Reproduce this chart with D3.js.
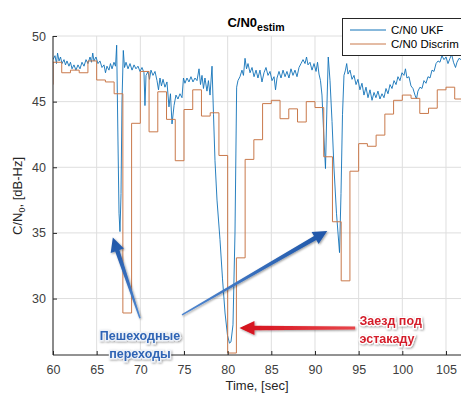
<!DOCTYPE html>
<html><head><meta charset="utf-8">
<script src="https://cdn.jsdelivr.net/npm/d3@7"></script>
<style>
html,body{margin:0;padding:0;background:#fff;}
svg{display:block;font-family:"Liberation Sans",Arial,Helvetica,sans-serif;}
</style></head>
<body>
<svg id="chart" width="461" height="396"></svg>
<script>
// ---- data ----
const xTicks = [60,65,70,75,80,85,90,95,100,105];
const yTicks = [30,35,40,45,50];
const seriesNames = ["C/N0 UKF","C/N0 Discrim"];

// Discriminator estimate: one value per second (step after)
const discrimTime = [59,60,61,62,63,64,65,66,67,68,69,70,71,72,73,74,75,76,77,78,79,80,81,82,83,84,85,86,87,88,89,90,91,92,93,94,95,96,97,98,99,100,101,102,103,104,105,106,107];
const discrimValue = [46.3,48.0,47.2,47.4,47.2,48.1,46.65,46.5,45.6,28.9,43.35,47.3,42.7,45.75,43.65,40.5,44.4,45.9,43.9,44.15,40.9,25.85,33.1,40.6,42.1,44.85,45.1,43.7,44.45,43.45,45.0,44.55,40.8,35.85,31.35,39.7,41.8,41.6,42.45,44.05,45.1,45.5,45.25,44.1,44.5,45.9,46.1,45.2,45.2];

// UKF estimate
const ukfTime = [60.0,60.23,60.4,60.52,60.69,60.86,61.03,61.26,61.43,61.6,61.83,62.0,62.18,62.4,62.63,62.86,63.09,63.32,63.55,63.78,64.0,64.24,64.41,64.55,64.69,64.92,65.15,65.38,65.61,65.84,66.01,66.18,66.41,66.58,66.76,66.98,67.16,67.29,67.44,67.56,67.67,67.79,67.9,68.05,68.19,68.36,68.59,68.82,69.05,69.28,69.5,69.73,69.96,70.19,70.42,70.53,70.65,70.88,71.05,71.22,71.45,71.68,71.91,72.08,72.25,72.42,72.6,72.82,73.05,73.28,73.45,73.63,73.86,74.08,74.31,74.54,74.77,74.94,75.11,75.34,75.57,75.8,76.03,76.26,76.49,76.72,76.89,77.06,77.23,77.4,77.63,77.8,77.98,78.21,78.38,78.55,78.78,79.12,79.41,79.7,79.98,80.21,80.38,80.61,80.84,81.03,81.18,81.41,81.64,81.81,81.99,82.16,82.33,82.56,82.79,83.02,83.25,83.47,83.7,83.93,84.16,84.39,84.62,84.85,85.08,85.31,85.48,85.65,85.88,86.11,86.34,86.57,86.79,87.02,87.25,87.48,87.71,87.94,88.17,88.4,88.63,88.86,89.03,89.2,89.43,89.66,89.89,90.12,90.29,90.46,90.63,90.8,90.97,91.2,91.38,91.52,91.72,91.95,92.17,92.46,92.81,92.98,93.15,93.32,93.49,93.63,93.78,94.01,94.24,94.47,94.7,94.92,95.15,95.38,95.61,95.84,96.07,96.3,96.53,96.76,96.98,97.21,97.44,97.67,97.9,98.13,98.36,98.59,98.82,99.05,99.28,99.5,99.73,99.96,100.19,100.36,100.53,100.76,100.99,101.22,101.45,101.62,101.79,102.02,102.25,102.48,102.71,102.94,103.17,103.4,103.63,103.86,104.09,104.31,104.54,104.77,105.0,105.23,105.46,105.65,105.86,106.09,106.26,106.49,106.72];
const ukfValue = [48.2,48.5,47.9,48.7,48.1,48.4,47.9,48.2,47.8,48.1,47.7,48.0,47.5,47.8,47.4,47.8,47.5,48.0,47.7,48.2,47.9,48.4,48.0,48.7,48.1,48.4,47.9,48.1,47.6,47.8,47.2,47.7,47.4,47.9,47.5,48.0,47.7,49.3,42.0,36.5,35.1,38.0,45.0,48.9,47.6,48.0,47.5,47.9,47.4,47.8,47.5,47.7,47.3,47.6,47.2,44.7,47.0,47.3,46.7,47.4,47.0,47.3,46.6,45.9,46.8,46.2,46.7,46.1,46.5,44.6,45.6,43.3,44.7,45.5,45.2,45.6,45.3,46.8,46.4,46.8,46.5,46.9,46.5,46.8,46.6,47.5,46.3,47.0,46.0,46.8,45.8,46.6,45.5,47.7,44.0,40.5,37.5,34.5,31.5,28.9,27.2,26.6,26.7,28.0,35.0,46.1,46.6,46.9,47.4,47.0,48.3,47.5,47.9,47.2,47.6,46.9,47.4,46.8,47.4,46.5,47.2,47.6,47.0,47.3,46.6,46.9,45.9,46.8,47.3,46.8,47.4,46.9,47.3,46.8,47.5,47.0,47.4,46.9,47.6,47.9,48.2,47.9,48.4,47.8,48.0,47.4,47.9,47.3,48.0,47.1,46.6,45.5,43.0,39.9,45.0,48.4,46.6,43.5,40.0,36.5,33.5,38.0,44.0,47.0,47.4,47.9,47.1,47.4,46.7,47.0,46.3,46.7,45.9,46.4,45.5,46.1,45.3,45.9,45.1,45.7,45.3,45.8,45.2,45.6,45.3,46.0,45.6,46.3,46.0,46.6,46.3,46.9,46.6,47.2,47.0,47.5,46.8,46.9,46.2,46.0,45.5,45.2,45.8,46.1,46.0,46.6,46.4,46.9,46.8,47.4,47.3,47.9,48.1,48.0,48.5,48.2,48.4,47.9,48.3,48.6,48.0,47.6,48.0,48.3,48.2];

// annotations (data coordinates)
const crossingLabel = ["Пешеходные","переходы"];
const overpassLabel = ["Заезд под","эстакаду"];
const blueArrows = [
  {from:[69.96,28.5], to:[66.85,34.65]},
  {from:[74.77,28.75], to:[91.4,35.15]}
];
const redArrow = {from:[94.6,27.75], to:[81.35,27.75]};

// ---- chart ----
const svg = d3.select("#chart");
const L = 53, B = 355, T = 36;
const x = d3.scaleLinear().domain([60,107]).range([L, L + 47*8.733]);
const y = d3.scaleLinear().domain([25.7,50]).range([B, T]);

const defs = svg.append("defs");
defs.append("clipPath").attr("id","clip").append("rect")
  .attr("x",L).attr("y",T-2).attr("width",461-L).attr("height",B-T+2);
const f = defs.append("filter").attr("id","shadow").attr("x","-20%").attr("y","-30%").attr("width","140%").attr("height","160%");
f.append("feDropShadow").attr("dx",1).attr("dy",1).attr("stdDeviation",1.2).attr("flood-color","#000").attr("flood-opacity",0.4);

// grid
const grid = svg.append("g");
grid.selectAll("line.vx").data(xTicks).join("line")
  .attr("x1",d=>x(d)).attr("x2",d=>x(d)).attr("y1",T).attr("y2",B)
  .attr("stroke","#dedede").attr("stroke-width",1);
grid.selectAll("line.hy").data(yTicks).join("line")
  .attr("x1",L).attr("x2",461).attr("y1",d=>y(d)).attr("y2",d=>y(d))
  .attr("stroke","#dedede").attr("stroke-width",1);

// series
const plot = svg.append("g").attr("clip-path","url(#clip)");
const ukf = ukfTime.map((t,i)=>[t,ukfValue[i]]);
const disc = discrimTime.map((t,i)=>[t,discrimValue[i]]);
const ukfColor = "#1172b8", discColor = "#c9794b";
plot.append("path").datum(ukf)
  .attr("d", d3.line().x(d=>x(d[0])).y(d=>y(d[1])))
  .attr("fill","none").attr("stroke",ukfColor).attr("stroke-width",0.9).attr("stroke-linejoin","round");
plot.append("path").datum(disc)
  .attr("d", d3.line().curve(d3.curveStepAfter).x(d=>x(d[0])).y(d=>y(d[1])))
  .attr("fill","none").attr("stroke",discColor).attr("stroke-width",1);

// axes
const xAxis = d3.axisBottom(x).tickValues(xTicks).tickSizeInner(-4).tickSizeOuter(0).tickPadding(10);
const yAxis = d3.axisLeft(y).tickValues(yTicks).tickSizeInner(-4).tickSizeOuter(0).tickPadding(7);
const gx = svg.append("g").attr("transform",`translate(0,${B})`).call(xAxis);
const gy = svg.append("g").attr("transform",`translate(${L},0)`).call(yAxis);
gx.select(".domain").attr("d",`M${L},0H461`);
gy.select(".domain").attr("d",`M0,${B}V${T}`);
[gx,gy].forEach(g=>{
  g.select(".domain").attr("stroke","#262626");
  g.selectAll(".tick line").attr("stroke","#262626");
  g.selectAll(".tick text").attr("fill","#404040").style("font-size","12.5px").style("font-family","Liberation Sans, Arial, sans-serif");
});

// title
const title = svg.append("text").attr("x",256).attr("y",27).attr("text-anchor","middle")
  .attr("fill","#000").style("font-weight","bold").style("font-size","13px");
title.append("tspan").text("C/N0");
title.append("tspan").attr("dy",4).style("font-size","10.5px").text("estim");

// axis labels
svg.append("text").attr("x",257).attr("y",390).attr("text-anchor","middle")
  .attr("fill","#262626").style("font-size","13px").text("Time, [sec]");
const yl = svg.append("text").attr("transform","translate(22,196) rotate(-90)").attr("text-anchor","middle")
  .attr("fill","#262626").style("font-size","13px");
yl.append("tspan").text("C/N");
yl.append("tspan").attr("dy",3).style("font-size","9px").text("0");
yl.append("tspan").attr("dy",-3).text(", [dB-Hz]");

// legend
const lg = svg.append("g");
lg.append("rect").attr("x",342.5).attr("y",18.5).attr("width",125).attr("height",37)
  .attr("fill","#fff").attr("stroke","#262626").attr("stroke-width",1);
const colors = [ukfColor, discColor];
seriesNames.forEach((n,i)=>{
  const yy = 30 + i*14;
  lg.append("line").attr("x1",350).attr("x2",386).attr("y1",yy).attr("y2",yy)
    .attr("stroke",colors[i]).attr("stroke-width",1);
  lg.append("text").attr("x",391).attr("y",yy+4).attr("fill","#000").style("font-size","11.5px").text(n);
});

// arrows
function arrowPoly(p0,p1,w0,w1,hw,hl){
  const dx=p1[0]-p0[0], dy=p1[1]-p0[1], len=Math.hypot(dx,dy);
  const ux=dx/len, uy=dy/len, nx=-uy, ny=ux;
  const bx=p1[0]-ux*hl, by=p1[1]-uy*hl;
  return [
    [p0[0]+nx*w0/2,p0[1]+ny*w0/2],[bx+nx*w1/2,by+ny*w1/2],[bx+nx*hw/2,by+ny*hw/2],
    p1,[bx-nx*hw/2,by-ny*hw/2],[bx-nx*w1/2,by-ny*w1/2],[p0[0]-nx*w0/2,p0[1]-ny*w0/2]
  ];
}
const ann = svg.append("g");
blueArrows.forEach((a,i)=>{
  const p0=[x(a.from[0]),y(a.from[1])], p1=[x(a.to[0]),y(a.to[1])];
  const gid="bg"+i;
  const gr = defs.append("linearGradient").attr("id",gid).attr("gradientUnits","userSpaceOnUse")
    .attr("x1",p0[0]).attr("y1",p0[1]).attr("x2",p1[0]).attr("y2",p1[1]);
  gr.append("stop").attr("offset","0%").attr("stop-color","#4f86cf");
  gr.append("stop").attr("offset","100%").attr("stop-color","#1f56a8");
  ann.append("polygon").attr("points",arrowPoly(p0,p1,1.5,4.5,14,14).map(p=>p.join(",")).join(" "))
    .attr("fill",`url(#${gid})`).attr("filter","url(#shadow)");
});
{
  const p0=[x(redArrow.from[0]),y(redArrow.from[1])], p1=[x(redArrow.to[0]),y(redArrow.to[1])];
  const gr = defs.append("linearGradient").attr("id","rg").attr("gradientUnits","userSpaceOnUse")
    .attr("x1",p0[0]).attr("y1",p0[1]).attr("x2",p1[0]).attr("y2",p1[1]);
  gr.append("stop").attr("offset","0%").attr("stop-color","#e8454a");
  gr.append("stop").attr("offset","100%").attr("stop-color","#d4101c");
  ann.append("polygon").attr("points",arrowPoly(p0,p1,3,4.5,14,15).map(p=>p.join(",")).join(" "))
    .attr("fill","url(#rg)").attr("filter","url(#shadow)");
}
// labels
crossingLabel.forEach((s,i)=>{
  ann.append("text").attr("x",x(69.96)).attr("y",y(26.85)+i*18).attr("text-anchor","middle")
    .attr("fill","#2f64b4").attr("stroke","#eef2f8").attr("stroke-width",2.5).attr("paint-order","stroke")
    .attr("filter","url(#shadow)")
    .style("font-weight","bold").style("font-size","12.5px").text(s);
});
overpassLabel.forEach((s,i)=>{
  ann.append("text").attr("x",x(95.1)).attr("y",y(28.0)+i*18).attr("text-anchor","start")
    .attr("fill","#d41f2b").attr("stroke","#fff").attr("stroke-width",2.5).attr("paint-order","stroke")
    .attr("filter","url(#shadow)")
    .style("font-weight","bold").style("font-size","12.5px").text(s);
});
</script>
</body></html>
